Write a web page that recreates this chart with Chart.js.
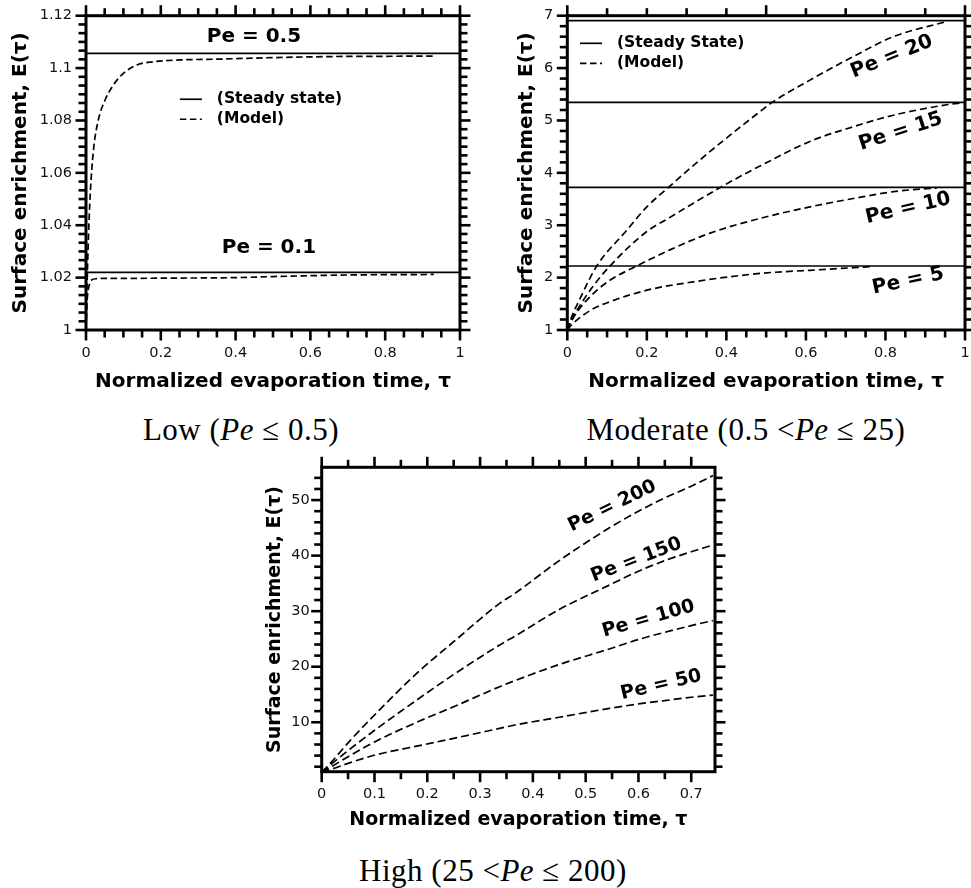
<!DOCTYPE html>
<html>
<head>
<meta charset="utf-8">
<script src="https://cdn.jsdelivr.net/npm/chart.js@4.4.1/dist/chart.umd.min.js"></script>
<style>
  body { margin: 0; background: #fff; width: 971px; height: 888px; position: relative; overflow: hidden; }
  canvas { position: absolute; }
  .cap { position: absolute; font-family: "Liberation Serif", serif; font-size: 31px; line-height: 34px;
         letter-spacing: 0.5px; white-space: nowrap; transform: translateX(-50%); color: #000; }
</style>
</head>
<body>
<canvas id="low" width="480" height="400" style="left:0;top:0"></canvas>
<canvas id="mod" width="481" height="400" style="left:490px;top:0"></canvas>
<canvas id="high" width="500" height="390" style="left:240px;top:450px"></canvas>
<div class="cap" style="left:241px;top:413px">Low (<i>Pe</i> ≤ 0.5)</div>
<div class="cap" style="left:746px;top:413px">Moderate (0.5 &lt;<i>Pe</i> ≤ 25)</div>
<div class="cap" style="left:493px;top:854px">High (25 &lt;<i>Pe</i> ≤ 200)</div>
<script>
// ---- Low Pe panel ----
var lowTicksX = [0, 0.2, 0.4, 0.6, 0.8, 1];
var lowTicksY = [1, 1.02, 1.04, 1.06, 1.08, 1.1, 1.12];
var lowTauPe05 = [0, 0.003, 0.006, 0.011, 0.02, 0.033, 0.051, 0.073, 0.1, 0.136, 0.18, 0.25, 0.35, 0.5, 0.66, 0.8, 0.93];
var lowPe05Model = [1.0, 1.018, 1.033, 1.051, 1.0687, 1.0802, 1.0878, 1.0935, 1.098, 1.1012, 1.1024, 1.1031, 1.1034, 1.104, 1.1044, 1.1045, 1.1046];
var lowTauPe01 = [0, 0.002, 0.006, 0.01, 0.015, 0.029, 0.05, 0.1, 0.2, 0.4, 0.5, 0.7, 0.93];
var lowPe01Model = [1.0, 1.009, 1.0153, 1.0178, 1.0191, 1.0196, 1.0197, 1.0197, 1.0198, 1.02, 1.0204, 1.021, 1.0212];
var lowSteady = [1.1056, 1.022];   // Pe = 0.5, Pe = 0.1

// ---- Moderate Pe panel ----
var modTicksX = [0, 0.2, 0.4, 0.6, 0.8, 1];
var modTicksY = [1, 2, 3, 4, 5, 6, 7];
var modTauPe20 = [0, 0.011, 0.032, 0.074, 0.149, 0.2, 0.254, 0.334, 0.4845, 0.518, 0.61, 0.719, 0.82, 0.954];
var modPe20 = [1, 1.25, 1.6, 2.22, 2.9, 3.35, 3.72, 4.25, 5.17, 5.36, 5.77, 6.22, 6.6, 6.89];
var modTauPe15 = [0, 0.011, 0.032, 0.066, 0.107, 0.2, 0.258, 0.317, 0.38, 0.434, 0.4845, 0.61, 0.719, 0.82, 0.954, 0.995];
var modPe15 = [1, 1.2, 1.47, 1.85, 2.22, 2.88, 3.15, 3.42, 3.7, 3.93, 4.13, 4.6, 4.88, 5.1, 5.3, 5.34];
var modTauPe10 = [0, 0.011, 0.032, 0.066, 0.107, 0.174, 0.258, 0.359, 0.4845, 0.61, 0.719, 0.82, 0.904, 0.929];
var modPe10 = [1, 1.18, 1.42, 1.7, 1.95, 2.22, 2.53, 2.85, 3.13, 3.35, 3.51, 3.64, 3.7, 3.71];
var modTauPe5 = [0, 0.011, 0.024, 0.066, 0.107, 0.2, 0.317, 0.4845, 0.61, 0.72, 0.761];
var modPe5 = [1, 1.1, 1.19, 1.41, 1.54, 1.76, 1.92, 2.08, 2.14, 2.19, 2.21];
var modSteady = [6.905, 5.347, 3.724, 2.222];   // Pe = 20, 15, 10, 5

// ---- High Pe panel ----
var highTicksX = [0, 0.1, 0.2, 0.3, 0.4, 0.5, 0.6, 0.7];
var highTicksY = [10, 20, 30, 40, 50];
var highTau = [0, 0.02, 0.05, 0.101, 0.18, 0.25, 0.337, 0.366, 0.45, 0.545, 0.6, 0.65, 0.7, 0.741];
var highPe200 = [1, 3.0, 6.3, 11.4, 18.8, 24.5, 31.4, 33.2, 39.1, 45.0, 48.0, 50.4, 52.5, 54.4];
var highPe150 = [1, 2.6, 4.9, 8.6, 14.0, 18.6, 23.9, 25.5, 30.3, 34.7, 37.2, 39.1, 40.7, 41.9];
var highPe100 = [1, 2.1, 3.8, 6.5, 10.0, 12.8, 16.4, 17.5, 20.4, 23.2, 24.9, 26.2, 27.4, 28.3];
var highPe50 = [1, 1.6, 2.6, 4.1, 5.7, 7.1, 8.9, 9.5, 10.9, 12.5, 13.3, 13.9, 14.5, 14.9];

function pts(xs, ys) {
  return xs.map(function (x, i) { return { x: x, y: ys[i] }; });
}
function model(xs, ys, dash) {
  return { data: pts(xs, ys), borderColor: '#000', borderWidth: 1.7, borderDash: dash || [6.5, 3.5] };
}
function steady(v, x1) {
  return { data: [{ x: 0, y: v }, { x: x1, y: v }], borderColor: '#000', borderWidth: 1.7 };
}
function fmt(v) { return String(+v.toFixed(3)); }

// draws the thick box, outward ticks on all sides, text labels and the small legend
var framePlugin = {
  id: 'frame',
  afterDatasetsDraw: function (chart, args, o) {
    var ctx = chart.ctx, a = chart.chartArea, sx = chart.scales.x, sy = chart.scales.y;
    ctx.save();
    ctx.strokeStyle = '#000';
    ctx.fillStyle = '#000';

    function each(min, max, step, fn) {
      for (var i = Math.ceil(min / step - 1e-6); i * step <= max + 1e-9; i++) fn(i * step);
    }
    function isMajor(v, major) { return Math.abs(v / major - Math.round(v / major)) < 1e-6; }
    function line(x1, y1, x2, y2) { ctx.beginPath(); ctx.moveTo(x1, y1); ctx.lineTo(x2, y2); ctx.stroke(); }

    ctx.lineWidth = 2.6;
    each(sx.min, sx.max, o.xMinor, function (v) {
      var p = sx.getPixelForValue(v), len = isMajor(v, o.xMajor) ? 9 : 6;
      line(p, a.bottom, p, a.bottom + 1.5 + len);
    });
    each(sx.min, sx.max, o.xTopMinor, function (v) {
      var p = sx.getPixelForValue(v), len = isMajor(v, o.xTopMajor) ? 9 : 6;
      line(p, a.top, p, a.top - 1.5 - len);
    });
    each(sy.min, sy.max, o.yMinor, function (v) {
      var p = sy.getPixelForValue(v), len = isMajor(v, o.yMajor) ? 9 : 6;
      line(a.left, p, a.left - 1.5 - len, p);
      line(a.right, p, a.right + 1.5 + len, p);
    });
    ctx.lineWidth = 3;
    ctx.strokeRect(a.left, a.top, a.right - a.left, a.bottom - a.top);

    (o.labels || []).forEach(function (l) {
      ctx.save();
      ctx.translate(sx.getPixelForValue(l.tau), sy.getPixelForValue(l.e));
      ctx.rotate(-l.rot * Math.PI / 180);
      ctx.font = 'bold ' + l.size + 'px "DejaVu Sans"';
      ctx.textAlign = 'center';
      ctx.textBaseline = 'middle';
      ctx.fillText(l.text, 0, 0);
      ctx.restore();
    });

    if (o.legend) {
      var lx = sx.getPixelForValue(o.legend.tau), ly = sy.getPixelForValue(o.legend.e);
      ctx.font = 'bold 15.5px "DejaVu Sans"';
      ctx.textBaseline = 'middle';
      ctx.textAlign = 'left';
      ctx.lineWidth = 1.7;
      o.legend.items.forEach(function (it, i) {
        var yy = ly + i * 20;
        ctx.setLineDash(it.dash ? [6.5, 3.5] : []);
        line(lx, yy, lx + 22, yy);
        ctx.setLineDash([]);
        ctx.fillText(it.text, lx + 37, yy);
      });
    }
    ctx.restore();
  }
};

function makeChart(id, c) {
  return new Chart(document.getElementById(id), {
    type: 'line',
    data: { datasets: c.datasets },
    options: {
      responsive: false,
      animation: false,
      devicePixelRatio: 1,
      layout: { padding: c.pad },
      elements: { point: { radius: 0 }, line: { cubicInterpolationMode: 'monotone', fill: false } },
      plugins: { legend: { display: false }, tooltip: { enabled: false }, frame: c.frame },
      scales: {
        x: {
          type: 'linear', min: c.xMin, max: c.xMax,
          afterFit: function (s) { s.height = c.xH; },
          afterBuildTicks: function (s) { s.ticks = c.xTicks.map(function (v) { return { value: v }; }); },
          grid: { display: false, drawTicks: false },
          border: { display: false },
          // padding 0 + tall line height keeps the label offset without widening the layout padding
          ticks: { font: { family: '"DejaVu Sans"', size: 14.5, lineHeight: 46 / 14.5 }, color: '#111',
                   padding: 0, maxRotation: 0, autoSkip: false, callback: fmt },
          title: { display: true, text: 'Normalized evaporation time, τ', color: '#000',
                   font: { family: '"DejaVu Sans"', size: c.titleSize, weight: 'bold' },
                   padding: { top: 0, bottom: c.xTitlePad } }
        },
        y: {
          type: 'linear', min: c.yMin, max: c.yMax,
          afterFit: function (s) { s.width = c.yW; },
          afterBuildTicks: function (s) { s.ticks = c.yTicks.map(function (v) { return { value: v }; }); },
          grid: { display: false, drawTicks: false },
          border: { display: false },
          ticks: { font: { family: '"DejaVu Sans"', size: 14.5, lineHeight: 0.2 }, color: '#111',
                   padding: c.yPad, autoSkip: false, callback: fmt },
          title: { display: true, text: 'Surface enrichment, E(τ)', color: '#000',
                   font: { family: '"DejaVu Sans"', size: c.titleSize, weight: 'bold' },
                   padding: { top: c.yTitlePad, bottom: 0 } }
        }
      }
    },
    plugins: [framePlugin]
  });
}

makeChart('low', {
  datasets: [
    steady(lowSteady[0], 1), steady(lowSteady[1], 1),
    model(lowTauPe05, lowPe05Model), model(lowTauPe01, lowPe01Model)
  ],
  pad: { left: 0, right: 20, top: 15.7, bottom: 0 },
  xMin: 0, xMax: 1, yMin: 1, yMax: 1.12,
  xTicks: lowTicksX, yTicks: lowTicksY,
  xH: 70, yW: 86, yPad: 14, titleSize: 20, xTitlePad: 6.5, yTitlePad: 8.7,
  frame: {
    xMinor: 0.05, xMajor: 0.2, xTopMinor: 0.05, xTopMajor: 0.2, yMinor: 0.02 / 6, yMajor: 0.02,
    labels: [
      { text: 'Pe = 0.5', tau: 0.449, e: 1.112, rot: 0, size: 20 },
      { text: 'Pe = 0.1', tau: 0.489, e: 1.0312, rot: 0, size: 20 }
    ],
    legend: { tau: 0.251, e: 1.0881, items: [{ text: '(Steady state)', dash: false }, { text: '(Model)', dash: true }] }
  }
});

var modDash = [7, 4];
makeChart('mod', {
  datasets: [
    steady(modSteady[0], 1), steady(modSteady[1], 1), steady(modSteady[2], 1), steady(modSteady[3], 1),
    model(modTauPe20, modPe20, modDash), model(modTauPe15, modPe15, modDash),
    model(modTauPe10, modPe10, modDash), model(modTauPe5, modPe5, modDash)
  ],
  pad: { left: 0, right: 6, top: 15.7, bottom: 0 },
  xMin: 0, xMax: 1, yMin: 1, yMax: 7,
  xTicks: modTicksX, yTicks: modTicksY,
  xH: 70, yW: 77.3, yPad: 14, titleSize: 20, xTitlePad: 6.5, yTitlePad: 24.7,
  frame: {
    xMinor: 0.05, xMajor: 0.2, xTopMinor: 0.1, xTopMajor: 0.5, yMinor: 0.2, yMajor: 1,
    labels: [
      { text: 'Pe = 20', tau: 0.816, e: 6.217, rot: 22, size: 20 },
      { text: 'Pe = 15', tau: 0.838, e: 4.785, rot: 18, size: 20 },
      { text: 'Pe = 10', tau: 0.857, e: 3.323, rot: 13, size: 20 },
      { text: 'Pe = 5', tau: 0.857, e: 1.935, rot: 12, size: 20 }
    ],
    legend: { tau: 0.032, e: 6.473, items: [{ text: '(Steady State)', dash: false }, { text: '(Model)', dash: true }] }
  }
});

var highDash = [8, 4];
makeChart('high', {
  datasets: [
    model(highTau, highPe200, highDash), model(highTau, highPe150, highDash),
    model(highTau, highPe100, highDash), model(highTau, highPe50, highDash)
  ],
  pad: { left: 0, right: 25, top: 17.3, bottom: 0 },
  xMin: 0, xMax: 0.745, yMin: 1.1, yMax: 55.9,
  xTicks: highTicksX, yTicks: highTicksY,
  xH: 68.3, yW: 81.7, yPad: 12, titleSize: 19, xTitlePad: 8.6, yTitlePad: 23.6,
  frame: {
    xMinor: 0.05, xMajor: 0.1, xTopMinor: 0.05, xTopMajor: 0.1, yMinor: 2, yMajor: 10,
    labels: [
      { text: 'Pe = 200', tau: 0.5505, e: 48.9, rot: 26, size: 19 },
      { text: 'Pe = 150', tau: 0.596, e: 39.2, rot: 21, size: 19 },
      { text: 'Pe = 100', tau: 0.619, e: 28.6, rot: 16, size: 19 },
      { text: 'Pe = 50', tau: 0.643, e: 16.7, rot: 13, size: 19 }
    ]
  }
});
</script>
</body>
</html>
